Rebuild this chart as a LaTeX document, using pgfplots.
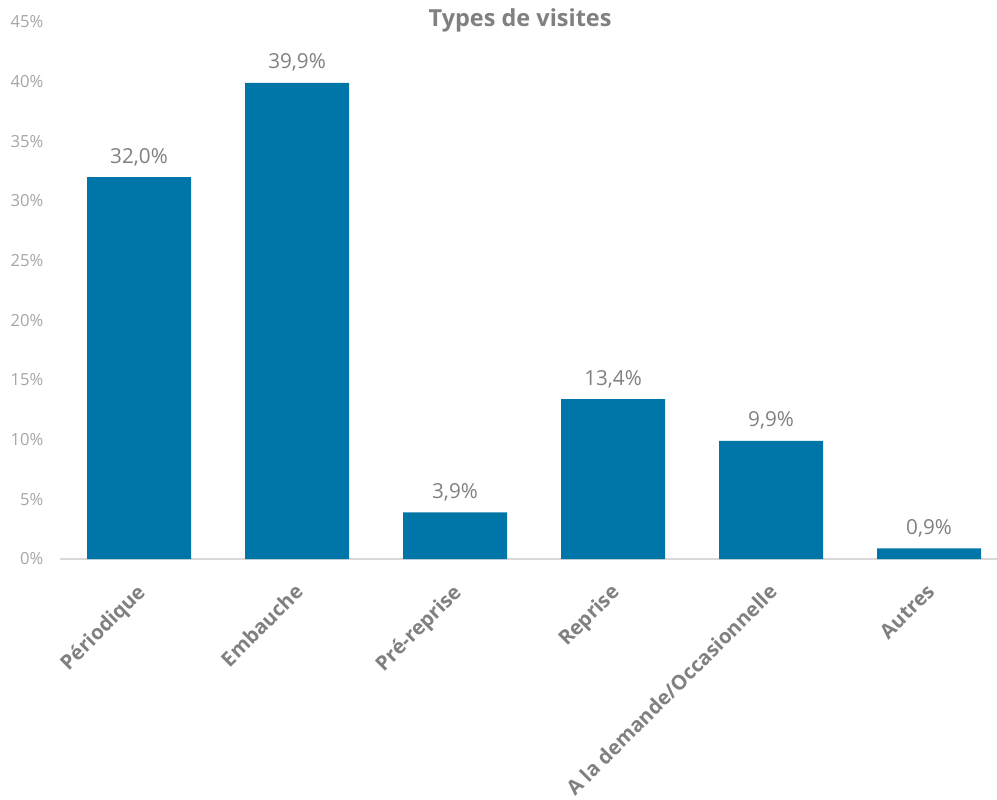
\documentclass[border=0pt]{standalone}
\usepackage{pgfplots}
\pgfplotsset{compat=1.18}
\usepackage{fontspec}
\setmainfont{Open Sans}
\definecolor{barblue}{RGB}{0,118,168}
\definecolor{ticklab}{RGB}{166,166,166}
\definecolor{lab}{RGB}{128,128,128}
\definecolor{axln}{RGB}{217,217,217}
\begin{document}
\begin{tikzpicture}[x=1pt,y=1pt]
\begin{axis}[
  scale only axis,
  width=702.75pt, height=402.75pt,
  xmin=-0.5, xmax=5.43,
  ymin=0, ymax=45,
  axis x line*=bottom,
  axis y line=none,
  x axis line style={draw=axln, line width=1.1pt},
  ytick={0,5,...,45},
  xtick={0,1,2,3,4,5},
  xticklabels={Périodique,Embauche,Pré-reprise,Reprise,A la demande/Occasionnelle,Autres},
  major tick length=0pt,
  /pgf/number format/assume math mode=true,
  clip=false,
  xticklabel style={xshift=-2.75pt, yshift=-14.6pt, rotate=45, anchor=north east, font=\fontsize{15.2}{18}\selectfont\bfseries, text=lab, inner sep=2pt},
  ybar, bar width=78pt,
  nodes near coords={\pgfmathprintnumber[fixed,fixed zerofill,precision=1,use comma,assume math mode=true]{\pgfplotspointmeta}\%},
  nodes near coords style={font=\fontsize{15.5}{18}\selectfont, text=lab, anchor=south, yshift=5pt},
]
\addplot[draw=none, fill=barblue] coordinates {(0,32.0) (1,39.9) (2,3.9) (3,13.4) (4,9.9) (5,0.9)};
\end{axis}
\begin{axis}[
  scale only axis,
  width=702.75pt, height=402.75pt,
  xmin=-0.5, xmax=5.43,
  ymin=0, ymax=45,
  hide x axis,
  axis y line*=left,
  y axis line style={draw=none},
  major tick length=0pt,
  ytick={0,5,...,45},
  yticklabel={\pgfmathprintnumber{\tick}\%},
  /pgf/number format/assume math mode=true,
  yticklabel style={font=\fontsize{12.5}{15}\selectfont, text=ticklab, anchor=east, xshift=-9pt},
  clip=false,
]
\addplot[draw=none] coordinates {(0,0)};
\node[font=\fontsize{17.6}{20}\selectfont\bfseries, text=lab, anchor=base] at (axis description cs:0.491,0.9907) {Types de visites};
\end{axis}
\pgfresetboundingbox
\path[use as bounding box] (-45pt,-180.75pt) rectangle (702.75pt,419.25pt);
\end{tikzpicture}
\end{document}
